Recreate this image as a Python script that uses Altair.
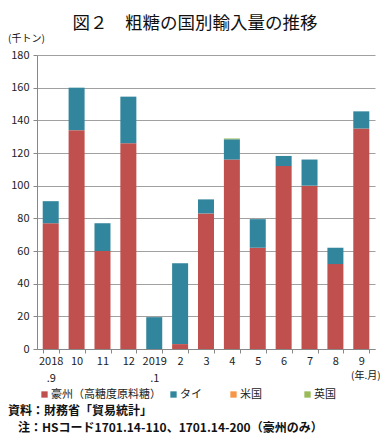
import altair as alt
import pandas as pd

months = ["2018.9", "10", "11", "12", "2019.1", "2", "3", "4", "5", "6", "7", "8", "9"]
series = ["豪州（高糖度原料糖）", "タイ", "米国", "英国"]
aus = [77, 134, 60, 126, 0, 3, 83, 116, 62, 112, 100, 52, 135]
thai = [13.5, 26, 17, 28.5, 19.5, 49.5, 8.6, 12.4, 17.5, 6.2, 16, 10, 10.5]
usa = [0, 0, 0, 0, 0, 0, 0, 0, 0, 0, 0, 0, 0]
uk = [0, 0, 0, 0, 0, 0, 0, 0.5, 0, 0, 0, 0, 0]
colors = ["#C0504D", "#31859C", "#F79646", "#9BBB59"]
y_ticks = [0, 20, 40, 60, 80, 100, 120, 140, 160, 180]

title_text = "図２　粗糖の国別輸入量の推移"
unit_text = "(千トン)"
xunit_text = "(年.月)"
note1 = "資料：財務省「貿易統計」"
note2 = "注：HSコード1701.14-110、1701.14-200（豪州のみ）"

rows = []
for vals, name, k in zip([aus, thai, usa, uk], series, range(4)):
    for m, v in zip(months, vals):
        rows.append({"month": m, "series": name, "value": v, "k": k})
df = pd.DataFrame(rows)

FONT = "Noto Sans CJK JP"
W, H = 338, 294

legend_label_expr = (
    "datum.label=='タイ' ? 'タイ\u3000   \u200b' : "
    "(datum.label=='米国' ? '米国\u3000\u3000\u3000\u200b' : datum.label)"
)

bars = alt.Chart(df).mark_bar(size=16).encode(
    x=alt.X("month:N", sort=months, title=None,
            scale=alt.Scale(paddingInner=0.38, paddingOuter=0.22),
            axis=alt.Axis(
                labelAngle=0, labelFont=FONT, labelFontSize=11, labelColor="#222",
                labelExpr="indexof(datum.label,'.')>0 ? [substring(datum.label,0,4), substring(datum.label,4)] : datum.label",
                labelLineHeight=17, labelPadding=2, tickBand="extent", tickSize=4,
                tickColor="#888", domainColor="#888", grid=False)),
    y=alt.Y("value:Q", stack="zero", title=None,
            scale=alt.Scale(domain=[0, 180], nice=False),
            axis=alt.Axis(values=y_ticks, labelFont=FONT, labelFontSize=11, labelColor="#222",
                          tickSize=4, tickColor="#888", domainColor="#888",
                          gridColor="#A0A0A0", gridWidth=1, labelPadding=4)),
    color=alt.Color("series:N", sort=series,
                    scale=alt.Scale(domain=series, range=colors),
                    legend=alt.Legend(title=None, orient="none", direction="horizontal",
                                      legendX=2, legendY=40 + H, symbolType="square",
                                      symbolSize=40, symbolStrokeWidth=0, labelFont=FONT,
                                      labelFontSize=11, labelColor="#222", labelOffset=1,
                                      gridAlign="none", columnPadding=7, columns=4,
                                      labelExpr=legend_label_expr)),
    order=alt.Order("k:Q"),
)

def txt(t, x, y, size, align="left", weight="normal"):
    return alt.Chart(pd.DataFrame({"t": [t]})).mark_text(
        font=FONT, fontSize=size, align=align, baseline="middle", color="#111",
        fontWeight=weight).encode(x=alt.value(x), y=alt.value(y), text="t:N")

chart = alt.layer(
    bars,
    txt(title_text, 158, -31, 17.5, align="center"),
    txt(unit_text, -29, -16, 10),
    txt(xunit_text, 314, 27 + H, 10),
    txt(note1, -29, 62 + H, 12, weight="bold"),
    txt(note2, -19, 79 + H, 12, weight="bold"),
).properties(
    width=W, height=H,
    autosize=alt.AutoSizeParams(type="none"),
    padding={"left": 29, "top": 47, "right": 6, "bottom": 87},
).configure_view(stroke=None)

chart.save("out.html", embed_options={"renderer": "svg", "actions": False})
